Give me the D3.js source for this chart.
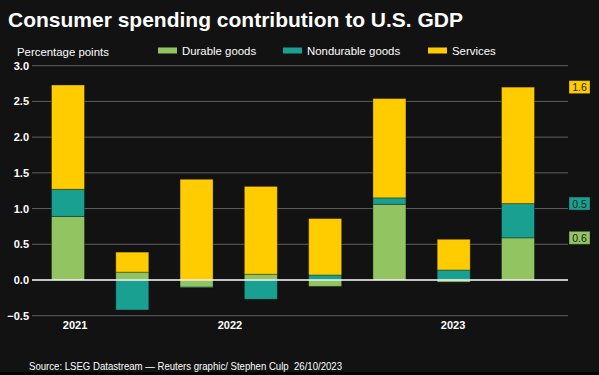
<!DOCTYPE html>
<html>
<head>
<meta charset="utf-8">
<script src="https://cdn.jsdelivr.net/npm/d3@7"></script>
<style>
body { margin: 0; background: #121212; }
svg { display: block; font-family: "Liberation Sans", Arial, sans-serif; }
</style>
</head>
<body>
<div id="chart"></div>
<script>
// chart data, one value per quarter
var quarters = ["Q4 2021", "Q1 2022", "Q2 2022", "Q3 2022", "Q4 2022", "Q1 2023", "Q2 2023", "Q3 2023"];
var durable = [0.89, 0.11, -0.10, 0.08, -0.09, 1.06, -0.03, 0.59];
var nondurable = [0.38, -0.42, -0.01, -0.27, 0.07, 0.09, 0.14, 0.48];
var services = [1.46, 0.28, 1.41, 1.23, 0.79, 1.39, 0.43, 1.63];
var seriesNames = ["Durable goods", "Nondurable goods", "Services"];
var seriesKeys = ["durable", "nondurable", "services"];
var colors = ["#92c462", "#19a090", "#ffcc00"];
var yTicks = [-0.5, 0, 0.5, 1.0, 1.5, 2.0, 2.5, 3.0];
// year labels sit at fractional quarter positions
var yearLabels = ["2021", "2022", "2023"];
var yearPos = [0.11, 2.52, 5.99];
var endLabels = ["0.6", "0.5", "1.6"];

var width = 599, height = 375;
var margin = {top: 66, right: 31, bottom: 59, left: 32};

var rows = quarters.map(function(q, i){
	return {quarter: q, durable: durable[i], nondurable: nondurable[i], services: services[i]};
});

var stacked = d3.stack()
	.keys(seriesKeys)
	.offset(d3.stackOffsetDiverging)(rows);

var svg = d3.select("#chart")
	.append("svg")
	.attr("width", width)
	.attr("height", height);

svg.append("rect")
	.attr("width", width)
	.attr("height", height)
	.attr("fill", "#121212");
svg.append("rect")
	.attr("y", 372)
	.attr("width", width)
	.attr("height", 3)
	.attr("fill", "#000");

var yscale = d3.scaleLinear()
	.domain([-0.5, 3.0])
	.range([height - margin.bottom - 0.3, margin.top - 0.3]);

var xscale = d3.scaleLinear()
	.domain([0, quarters.length - 1])
	.range([68, 518]);
var barWidth = 33;

// gridlines
svg.append("g")
	.selectAll("line")
	.data(yTicks.filter(function(d){ return d !== 0; }))
	.enter()
	.append("line")
		.attr("x1", margin.left)
		.attr("x2", width - margin.right)
		.attr("y1", function(d){ return yscale(d); })
		.attr("y2", function(d){ return yscale(d); })
		.attr("stroke", "#5e5e5e")
		.attr("stroke-width", 1);

var yAxis = d3.axisLeft(yscale)
	.tickValues(yTicks)
	.tickFormat(d3.format(".1f"))
	.tickSize(0)
	.tickPadding(3);

var yGroup = svg.append("g")
	.attr("transform", "translate(" + margin.left + ",0)")
	.call(yAxis);
yGroup.select(".domain").remove();
yGroup.selectAll("text")
	.attr("fill", "#fff")
	.attr("font-size", 11)
	.attr("font-weight", "bold")
	.attr("font-family", "Liberation Sans, Arial, sans-serif");

// bars
var layers = svg.append("g")
	.selectAll("g")
	.data(stacked)
	.enter()
	.append("g")
		.attr("fill", function(d, i){ return colors[i]; });

layers.selectAll("rect")
	.data(function(d){ return d; })
	.enter()
	.append("rect")
		.attr("x", function(d, i){ return xscale(i) - barWidth / 2; })
		.attr("width", barWidth)
		.attr("y", function(d){ return yscale(d[1]); })
		.attr("height", function(d){ return Math.abs(yscale(d[0]) - yscale(d[1])); })
		.attr("stroke", "rgba(0,0,0,0.3)")
		.attr("stroke-width", 1);

// zero line
svg.append("line")
	.attr("x1", margin.left)
	.attr("x2", width - margin.right)
	.attr("y1", yscale(0))
	.attr("y2", yscale(0))
	.attr("stroke", "#fff")
	.attr("stroke-width", 1.5);

// year labels
svg.append("g")
	.selectAll("text")
	.data(yearLabels)
	.enter()
	.append("text")
		.attr("x", function(d, i){ return xscale(yearPos[i]); })
		.attr("y", 329)
		.attr("text-anchor", "middle")
		.attr("fill", "#fff")
		.attr("font-size", 11)
		.attr("font-weight", "bold")
		.text(function(d){ return d; });

// end value labels for the last bar
var last = quarters.length - 1;
var endTags = svg.append("g")
	.selectAll("g")
	.data(stacked)
	.enter()
	.append("g")
		.attr("transform", function(d){ return "translate(569," + yscale(d[last][1]) + ")"; });
endTags.append("rect")
	.attr("x", 0)
	.attr("y", -6.5)
	.attr("width", 21)
	.attr("height", 13)
	.attr("fill", function(d, i){ return colors[i]; })
	.attr("stroke", "rgba(0,0,0,0.3)");
endTags.append("text")
	.attr("x", 10.5)
	.attr("y", 4)
	.attr("text-anchor", "middle")
	.attr("font-size", 10.5)
	.attr("fill", "#222")
	.text(function(d, i){ return endLabels[i]; });

// title
svg.append("text")
	.attr("x", 8)
	.attr("y", 27)
	.attr("fill", "#fff")
	.attr("font-size", 21)
	.attr("font-weight", "bold")
	.text("Consumer spending contribution to U.S. GDP");

svg.append("text")
	.attr("x", 17)
	.attr("y", 56)
	.attr("fill", "#fff")
	.attr("font-size", 11.4)
	.text("Percentage points");

// legend
var legendX = [158, 283, 428];
var legend = svg.append("g")
	.selectAll("g")
	.data(seriesNames)
	.enter()
	.append("g")
		.attr("transform", function(d, i){ return "translate(" + legendX[i] + ",0)"; });
legend.append("rect")
	.attr("y", 47.5)
	.attr("width", 19)
	.attr("height", 6)
	.attr("fill", function(d, i){ return colors[i]; });
legend.append("text")
	.attr("x", 24)
	.attr("y", 55)
	.attr("fill", "#fff")
	.attr("font-size", 11.4)
	.text(function(d){ return d; });

// source (narrow face in the original, so squeeze it)
svg.append("text")
	.attr("x", 29)
	.attr("y", 370)
	.attr("fill", "#fff")
	.attr("font-size", 11)
	.attr("xml:space", "preserve")
	.attr("textLength", 313)
	.attr("lengthAdjust", "spacingAndGlyphs")
	.text("Source: LSEG Datastream \u2014 Reuters graphic/ Stephen Culp  26/10/2023");
</script>
</body>
</html>
